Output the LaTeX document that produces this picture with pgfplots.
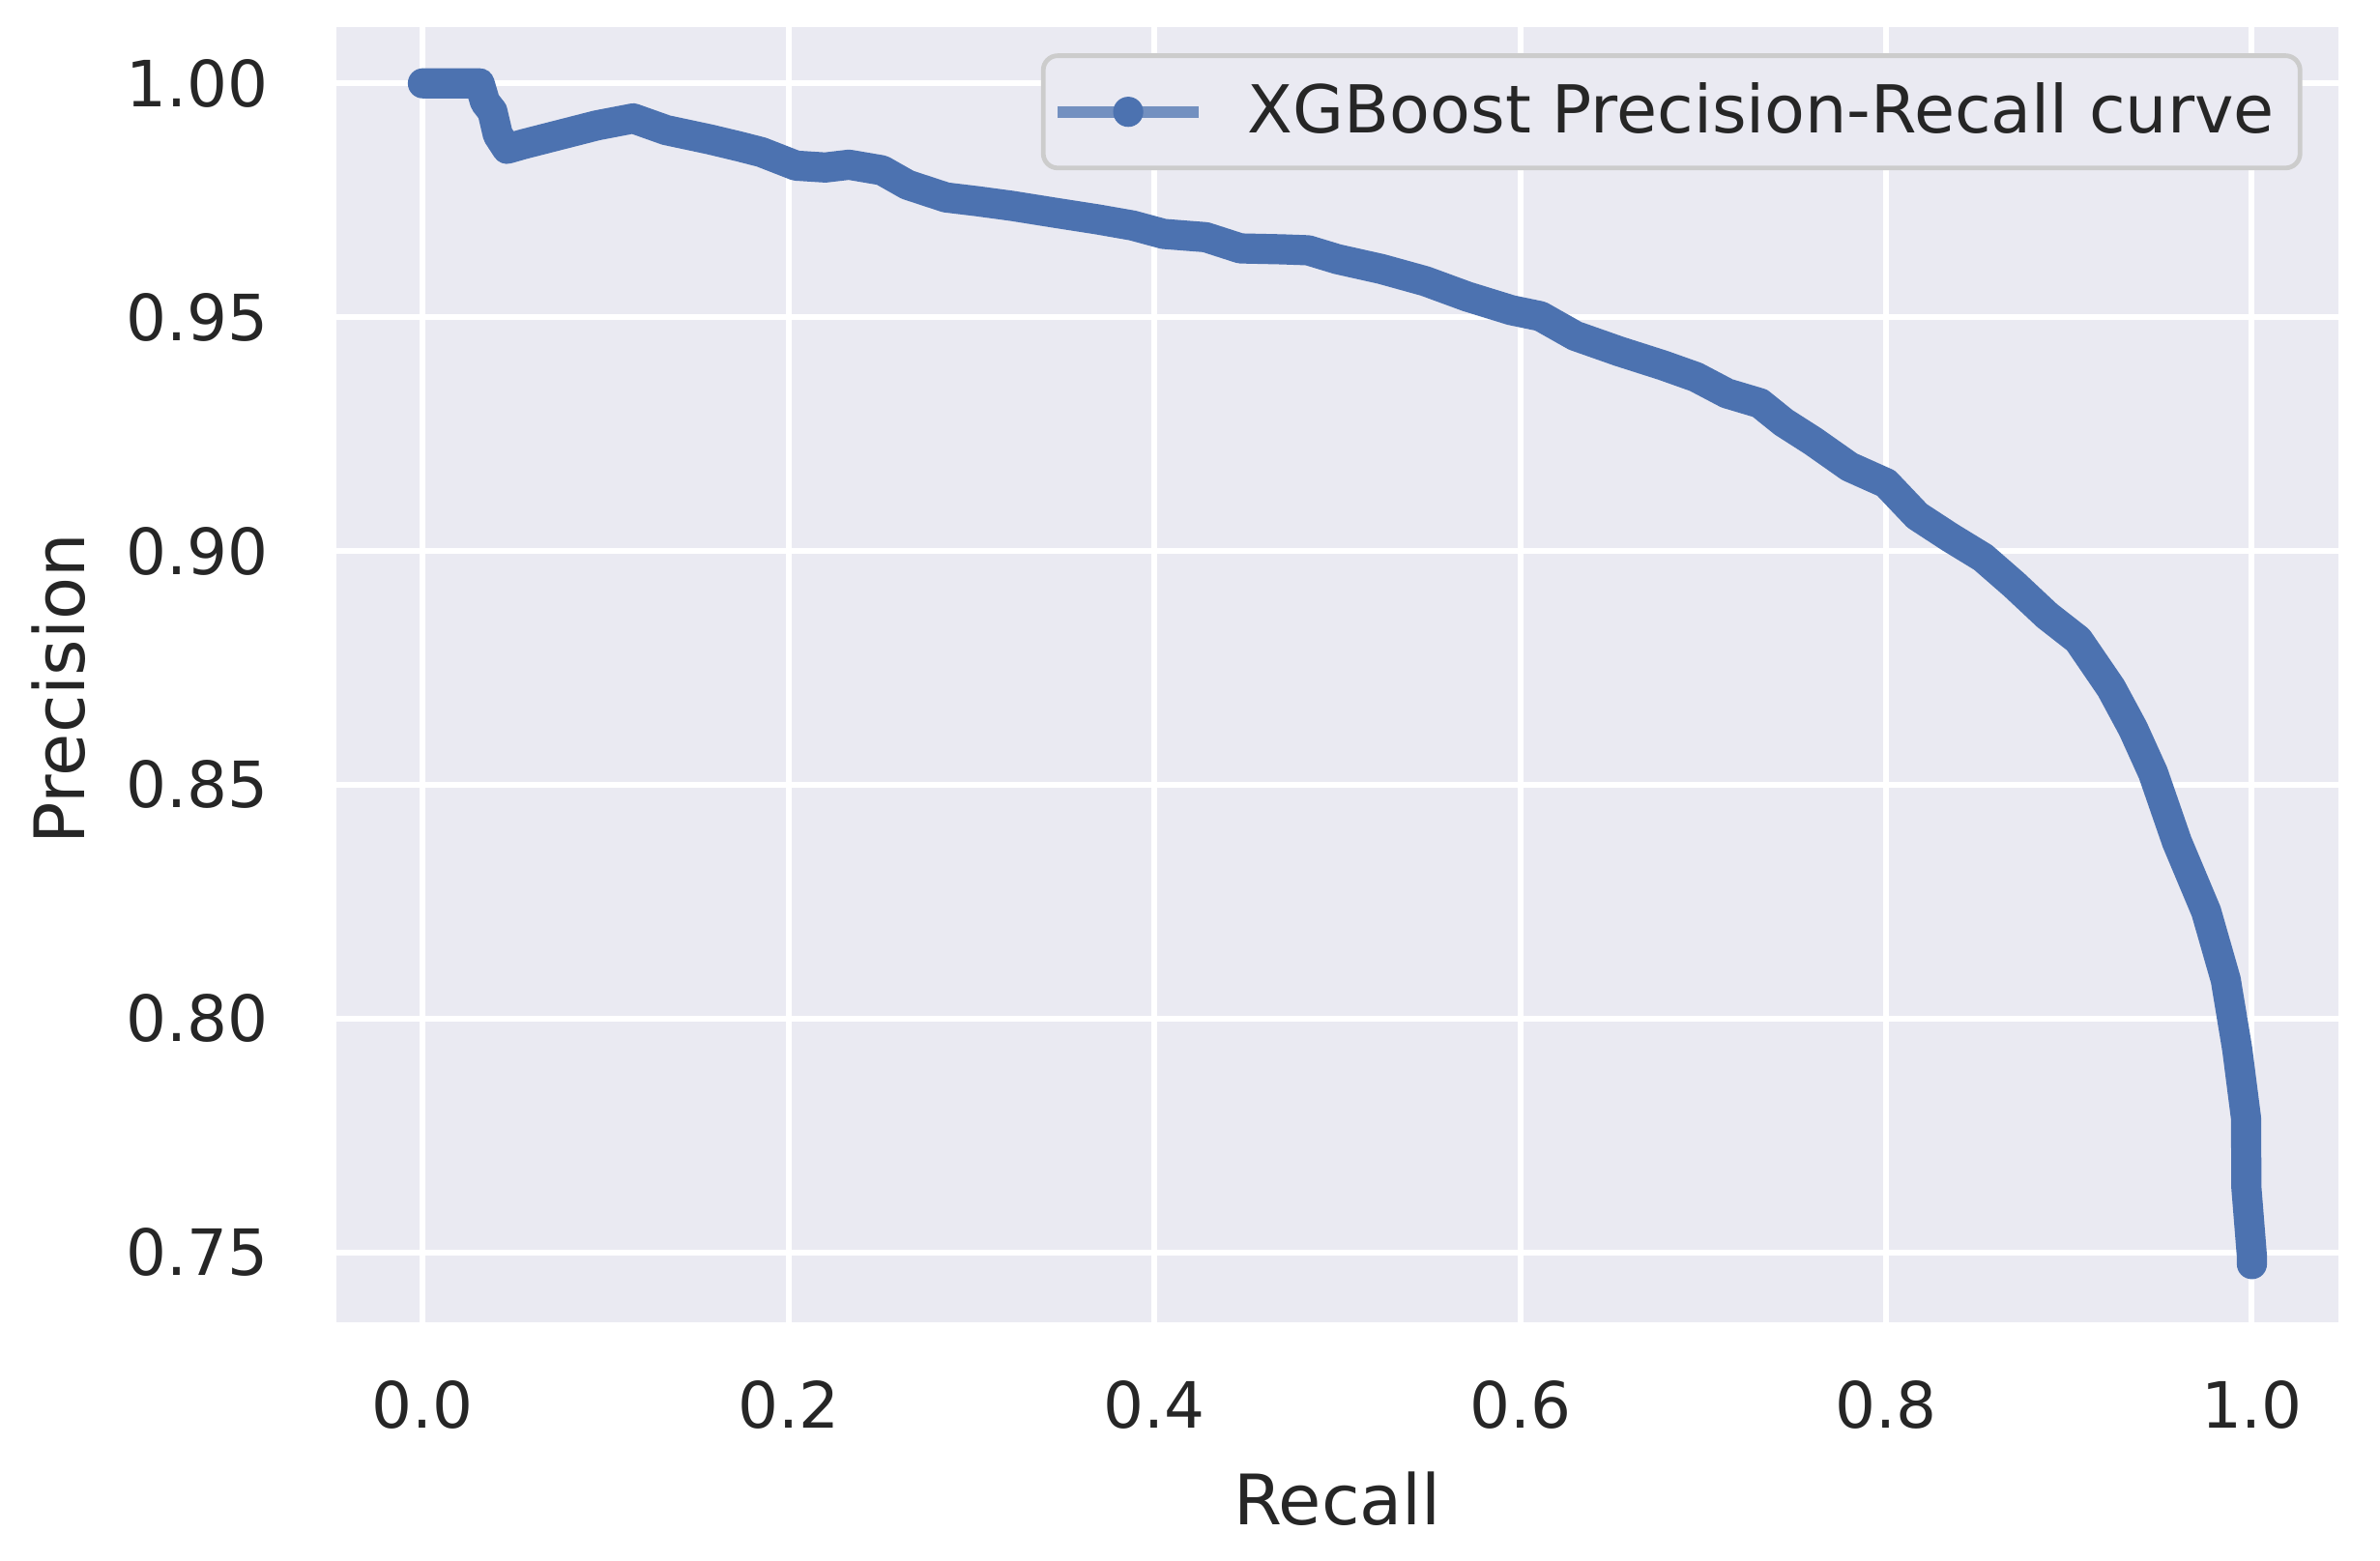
\documentclass[border=0pt]{standalone}
\usepackage{pgfplots}
\pgfplotsset{compat=1.18}
\usepackage{fontspec}
\setmainfont{DejaVu Sans}
\definecolor{bgc}{HTML}{EAEAF2}
\definecolor{cblue}{HTML}{4C72B0}
\definecolor{txt}{HTML}{262626}
\definecolor{legedge}{HTML}{CCCCCC}
\begin{document}
\begin{tikzpicture}
\begin{axis}[
  at={(0,0)}, anchor=south west,
  scale only axis, width=345.2pt, height=223.3pt,
  xmin=-0.0473, xmax=1.0473, ymin=0.7351, ymax=1.012,
  axis background/.style={fill=bgc},
  axis line style={draw=none},
  major tick length=0pt,
  grid=major, major grid style={white, line width=1pt},
  xtick={0,0.2,0.4,0.6,0.8,1.0},
  xticklabels={0.0,0.2,0.4,0.6,0.8,1.0},
  ytick={0.75,0.80,0.85,0.90,0.95,1.00},
  yticklabels={0.75,0.80,0.85,0.90,0.95,1.00},
  tick label style={font=\fontsize{11}{13}\selectfont, text=txt},
  xticklabel style={yshift=-6.6pt},
  yticklabel style={xshift=-8.2pt},
  xlabel={Recall}, ylabel={Precision},
  label style={font=\fontsize{12}{14}\selectfont, text=txt},
  xlabel style={at={(axis description cs:0.5,-0.1567)}, anchor=base},
  ylabel style={at={(axis description cs:-0.126,0.489)}, anchor=base},
  legend style={at={(axis description cs:0.982,0.9798)}, anchor=north east,
    draw=legedge, line width=0.8pt, fill=bgc, rounded corners=2.5pt,
    inner xsep=4.4pt, inner ysep=4.6pt,
    nodes={inner sep=0pt, text=txt},
    font=\fontsize{11.4}{13}\selectfont},
  legend cell align=left,
  /tikz/every odd column/.append style={column sep=8.5pt},
]
\addplot[color=cblue, line width=5.2pt, line join=round, line cap=round,
  legend image code/.code={
    \path[overlay, draw=cblue, line width=2pt, draw opacity=0.75, line cap=butt] (-1.9pt,0pt) -- (22.4pt,0pt);
    \path[overlay, fill=cblue, draw=none] (10.25pt,0pt) circle[radius=2.6pt];
    \path[draw=none, fill=none] (0pt,-2.6pt) rectangle (22.4pt,2.6pt);
  }] coordinates {
(0,1.0)
(0.031,1.0)
(0.034,0.996)
(0.038,0.994)
(0.041,0.989)
(0.046,0.986)
(0.055,0.987)
(0.065,0.988)
(0.08,0.9895)
(0.095,0.991)
(0.115,0.9925)
(0.133,0.990)
(0.157,0.988)
(0.173,0.9865)
(0.185,0.9853)
(0.204,0.9824)
(0.22,0.982)
(0.233,0.9826)
(0.251,0.9814)
(0.265,0.9783)
(0.286,0.9756)
(0.303,0.9748)
(0.322,0.9738)
(0.346,0.9723)
(0.369,0.9709)
(0.388,0.9696)
(0.405,0.9678)
(0.428,0.9671)
(0.447,0.9647)
(0.47,0.9645)
(0.484,0.9643)
(0.5,0.9624)
(0.524,0.9603)
(0.548,0.9577)
(0.571,0.9544)
(0.595,0.9515)
(0.611,0.9502)
(0.63,0.946)
(0.654,0.9427)
(0.678,0.9397)
(0.696,0.9372)
(0.713,0.9337)
(0.731,0.9316)
(0.744,0.9275)
(0.76,0.9235)
(0.78,0.918)
(0.80,0.9145)
(0.817,0.9075)
(0.835,0.9029)
(0.853,0.8986)
(0.87,0.8928)
(0.888,0.8862)
(0.905,0.881)
(0.923,0.8707)
(0.935,0.8620)
(0.946,0.8525)
(0.959,0.8378)
(0.975,0.8229)
(0.9857,0.8083)
(0.992,0.7934)
(0.9968,0.7787)
(0.997,0.7638)
(1.0,0.7492)
(1.0,0.7475)
};
\addlegendentry{XGBoost Precision-Recall curve}
\end{axis}
\path[use as bounding box] (-58pt,-41.17pt) rectangle (352.37pt,228pt);
\end{tikzpicture}
\end{document}
